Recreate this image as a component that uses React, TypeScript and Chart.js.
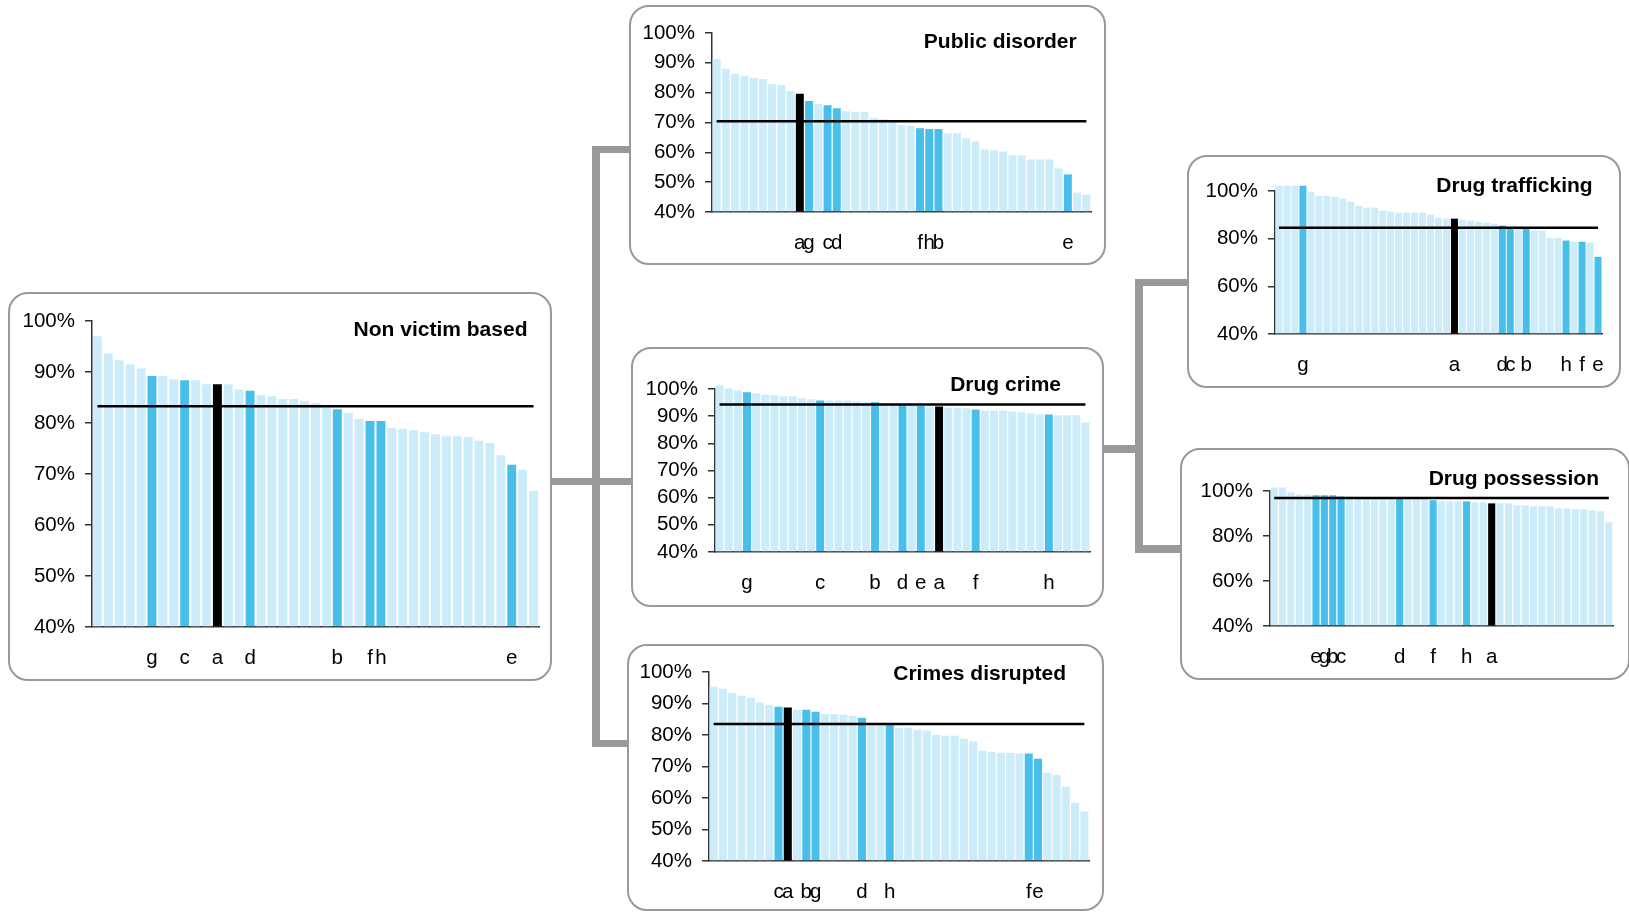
import React, { useEffect, useRef } from 'react';
import Chart from 'chart.js/auto';

Chart.defaults.font.family = "'Liberation Sans', Arial, sans-serif";

// ---------- DATA ----------
const nvValues = [97.0, 93.7, 92.3, 91.5, 90.7, 89.2, 89.2, 88.6, 88.4, 88.4, 87.6, 87.6, 87.6, 86.6, 86.3, 85.5, 85.3, 84.7, 84.7, 84.3, 83.9, 83.3, 82.7, 82.0, 80.8, 80.4, 80.4, 79.0, 78.8, 78.6, 78.2, 77.8, 77.5, 77.5, 77.3, 76.5, 76.1, 73.7, 71.8, 70.8, 66.7];
const nvMarks: [number, string][] = [[6, 'g'], [9, 'c'], [12, 'a'], [15, 'd'], [23, 'b'], [26, 'f'], [27, 'h'], [39, 'e']];
const nvAverage = 83.3;

const pdValues = [91.3, 88.0, 86.3, 85.6, 84.9, 84.6, 82.9, 82.6, 80.6, 79.6, 77.2, 76.2, 75.8, 74.8, 73.8, 73.5, 73.5, 71.5, 71.1, 70.4, 69.1, 68.8, 68.1, 67.8, 67.8, 66.4, 66.4, 64.7, 63.7, 61.0, 60.7, 60.3, 59.0, 59.0, 57.6, 57.6, 57.6, 54.6, 52.6, 46.5, 45.8];
const pdMarks: [number, string][] = [[10, 'a'], [11, 'g'], [13, 'c'], [14, 'd'], [23, 'f'], [24, 'h'], [25, 'b'], [39, 'e']];
const pdAverage = 70.4;

const dcValues = [101.4, 100.2, 99.5, 98.8, 98.4, 98.0, 97.7, 97.3, 97.3, 96.6, 96.2, 95.8, 95.8, 95.8, 95.8, 95.4, 95.1, 95.1, 94.7, 94.5, 94.3, 94.0, 93.7, 93.6, 93.6, 93.2, 93.2, 92.9, 92.5, 92.1, 92.1, 92.1, 91.7, 91.4, 91.0, 90.6, 90.6, 90.3, 90.3, 90.3, 87.7];
const dcMarks: [number, string][] = [[4, 'g'], [12, 'c'], [18, 'b'], [21, 'd'], [23, 'e'], [25, 'a'], [29, 'f'], [37, 'h']];
const dcAverage = 94.3;

const cdValues = [95.3, 94.7, 93.4, 92.5, 91.8, 90.3, 89.6, 89.0, 88.7, 88.0, 88.0, 87.4, 86.7, 86.7, 86.5, 86.1, 85.5, 83.6, 83.6, 83.5, 82.3, 82.3, 81.7, 81.4, 80.1, 79.8, 79.8, 78.8, 77.9, 75.0, 74.7, 74.4, 74.4, 74.1, 74.1, 72.5, 68.0, 67.4, 63.6, 58.5, 55.7];
const cdMarks: [number, string][] = [[8, 'c'], [9, 'a'], [11, 'b'], [12, 'g'], [17, 'd'], [20, 'h'], [35, 'f'], [36, 'e']];
const cdAverage = 83.5;

const dtValues = [102.2, 102.2, 102.2, 102.2, 99.7, 98.0, 98.0, 97.6, 96.8, 95.5, 93.8, 93.0, 93.0, 91.7, 91.3, 90.9, 90.9, 90.9, 90.9, 90.1, 88.8, 88.4, 88.4, 88.0, 87.6, 87.1, 86.7, 86.3, 85.5, 84.6, 84.5, 84.3, 83.4, 83.4, 80.4, 80.4, 79.2, 78.7, 78.7, 78.3, 72.4];
const dtMarks: [number, string][] = [[4, 'g'], [23, 'a'], [29, 'd'], [30, 'c'], [32, 'b'], [37, 'h'], [39, 'f'], [41, 'e']];
const dtAverage = 84.6;

const dpValues = [101.6, 101.6, 99.4, 98.5, 98.5, 98.1, 98.1, 98.1, 97.6, 97.6, 97.3, 97.3, 97.0, 97.0, 96.7, 96.7, 96.3, 96.3, 96.3, 95.9, 95.4, 95.4, 95.4, 95.4, 95.0, 95.0, 94.5, 94.5, 94.5, 93.6, 93.6, 93.2, 93.2, 93.2, 92.3, 92.3, 91.9, 91.9, 91.4, 91.0, 86.1];
const dpMarks: [number, string][] = [[6, 'e'], [7, 'g'], [8, 'b'], [9, 'c'], [16, 'd'], [20, 'f'], [24, 'h'], [27, 'a']];
const dpAverage = 96.9;

// ---------- STYLE / LAYOUT ----------
const LIGHT = '#CCECF9';
const BLUE = '#48BFEA';
const BLACK = '#000000';
const FRAME = '#999999';
const FONT = "'Liberation Sans', Arial, sans-serif";

type Rect = { l: number; t: number; r: number; b: number };
type Spec = {
  title: string;
  values: number[];
  marks: [number, string][];
  average: number;
  step: number;
  plot: Rect;
  box: Rect;
  barPct: number;
  titleRight: number;
  titleCy: number;
};

const specs: Spec[] = [
  { title: 'Non victim based', values: nvValues, marks: nvMarks, average: nvAverage, step: 10,
    plot: { l: 92, t: 321, r: 539, b: 627 }, box: { l: 8, t: 292, r: 552, b: 680.5 }, barPct: 0.82, titleRight: 527.5, titleCy: 328.3 },
  { title: 'Public disorder', values: pdValues, marks: pdMarks, average: pdAverage, step: 10,
    plot: { l: 712, t: 33, r: 1091, b: 212 }, box: { l: 628.5, t: 5, r: 1106, b: 265 }, barPct: 0.86, titleRight: 1076.7, titleCy: 40.5 },
  { title: 'Drug crime', values: dcValues, marks: dcMarks, average: dcAverage, step: 10,
    plot: { l: 715, t: 389, r: 1090, b: 552 }, box: { l: 630.5, t: 346.5, r: 1104, b: 607 }, barPct: 0.87, titleRight: 1061, titleCy: 382.8 },
  { title: 'Crimes disrupted', values: cdValues, marks: cdMarks, average: cdAverage, step: 10,
    plot: { l: 709, t: 672, r: 1089, b: 861 }, box: { l: 626.5, t: 644, r: 1104, b: 911 }, barPct: 0.87, titleRight: 1066, titleCy: 672.5 },
  { title: 'Drug trafficking', values: dtValues, marks: dtMarks, average: dtAverage, step: 20,
    plot: { l: 1275, t: 191, r: 1602, b: 334 }, box: { l: 1186.5, t: 155, r: 1620.5, b: 388 }, barPct: 0.88, titleRight: 1592.7, titleCy: 184.5 },
  { title: 'Drug possession', values: dpValues, marks: dpMarks, average: dpAverage, step: 20,
    plot: { l: 1270, t: 491, r: 1613, b: 626 }, box: { l: 1179.5, t: 447.5, r: 1629.5, b: 679.5 }, barPct: 0.85, titleRight: 1599, titleCy: 476.8 },
];

const connectors: { x: number; y: number; w: number; h: number }[] = [
  { x: 552, y: 478, w: 78.5, h: 7 },
  { x: 592, y: 146, w: 8, h: 601 },
  { x: 592, y: 146, w: 37, h: 7 },
  { x: 592, y: 740, w: 35, h: 7 },
  { x: 1135, y: 278.5, w: 8, h: 274 },
  { x: 1135, y: 278.5, w: 52, h: 7.5 },
  { x: 1104, y: 445, w: 31, h: 7.5 },
  { x: 1135, y: 545, w: 45, h: 7.5 },
];

const PADL = 80;
const PADT = 28;
const PADR = 8;
const XH = 50;

function Panel({ spec }: { spec: Spec }) {
  const ref = useRef<HTMLCanvasElement>(null);
  const left = spec.plot.l - PADL;
  const top = spec.plot.t - PADT;
  const width = spec.plot.r - spec.plot.l + PADL + PADR;
  const height = spec.plot.b - spec.plot.t + PADT + XH;

  useEffect(() => {
    const labels = spec.values.map(() => '');
    spec.marks.forEach(([i, ch]) => { labels[i - 1] = ch; });
    const colors = labels.map((l) => (l === 'a' ? BLACK : l ? BLUE : LIGHT));
    const avgLine = spec.values.map(() => spec.average);
    const chart = new Chart(ref.current!, {
      type: 'bar',
      data: {
        labels,
        datasets: [
          { type: 'line', data: avgLine, borderColor: '#000', borderWidth: 2.5, pointRadius: 0, order: 0 } as any,
          { type: 'bar', data: spec.values, backgroundColor: colors, barPercentage: spec.barPct, categoryPercentage: 1, base: 40, clip: false, order: 1 } as any,
        ],
      },
      options: {
        responsive: false,
        animation: false,
        devicePixelRatio: 1,
        layout: { padding: { left: 0, top: PADT, right: PADR, bottom: 0 } },
        plugins: { legend: { display: false }, tooltip: { enabled: false }, title: { display: false } },
        scales: {
          x: {
            grid: { display: false, drawTicks: true, tickLength: 19 },
            border: { display: true, color: '#333', width: 1.5 },
            ticks: { autoSkip: false, maxRotation: 0, minRotation: 0, padding: 0, color: '#000', font: { size: 20.5, family: FONT } },
            afterFit: (s: any) => { s.height = XH; },
          },
          y: {
            min: 40,
            max: 100,
            ticks: { autoSkip: false, stepSize: spec.step, padding: 10, color: '#000', font: { size: 20.5, family: FONT }, callback: (v: any) => v + '%' },
            grid: { drawOnChartArea: false, drawTicks: true, tickLength: 7, color: '#333', lineWidth: 1.5 },
            border: { display: true, color: '#333', width: 1.5 },
            afterFit: (s: any) => { s.width = PADL; },
          },
        },
      } as any,
    });
    return () => chart.destroy();
  }, [spec]);

  return (
    <>
      <div
        style={{
          position: 'absolute', left: spec.box.l, top: spec.box.t,
          width: spec.box.r - spec.box.l, height: spec.box.b - spec.box.t,
          border: `2px solid ${FRAME}`, borderRadius: 20, boxSizing: 'border-box', background: '#fff',
        }}
      />
      <canvas ref={ref} width={width} height={height} style={{ position: 'absolute', left, top, width, height }} />
      <div
        style={{
          position: 'absolute', right: 1629 - spec.titleRight, top: spec.titleCy - 10.3,
          fontFamily: FONT, fontWeight: 'bold', fontSize: 21, lineHeight: '21px', whiteSpace: 'nowrap', color: '#000',
        }}
      >
        {spec.title}
      </div>
    </>
  );
}

export default function App() {
  return (
    <div style={{ position: 'absolute', left: 0, top: 0, width: 1629, height: 913, overflow: 'hidden', background: '#fff' }}>
      {connectors.map((c, i) => (
        <div key={'c' + i} style={{ position: 'absolute', left: c.x, top: c.y, width: c.w, height: c.h, background: FRAME }} />
      ))}
      {specs.map((s, i) => (
        <Panel key={i} spec={s} />
      ))}
    </div>
  );
}
